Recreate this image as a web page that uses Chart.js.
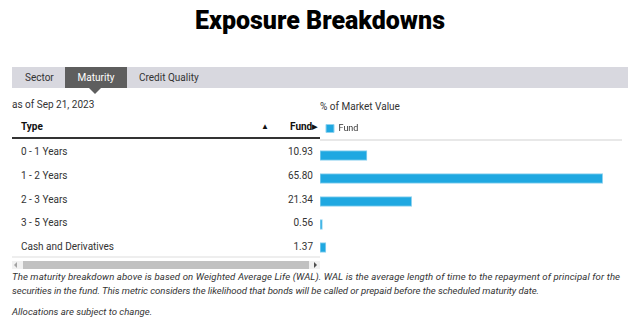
<!DOCTYPE html>
<html><head><meta charset="utf-8">
<script src="https://cdn.jsdelivr.net/npm/chart.js@4.4.0/dist/chart.umd.min.js"></script>
<style>
html,body{margin:0;padding:0}
body{width:640px;height:327px;overflow:hidden;background:#fff;font-family:Roboto,"Liberation Sans",sans-serif;color:#333;position:relative}
.a{position:absolute;white-space:nowrap}
.row{position:absolute;left:12px;width:308px;height:24px;font-size:10px;line-height:24px}
.row .n{position:absolute;left:9px}
.row .v{position:absolute;right:7px}
.foot{font-style:italic;font-size:9.6px;color:#333}
</style></head><body>
<div class="a" style="left:0;width:640px;top:4px;text-align:center;font-weight:900;font-size:25px;color:#000;line-height:34px">Exposure Breakdowns</div>

<div class="a" style="left:12px;top:67px;width:616px;height:21px;background:#d8d8df"></div>
<div class="a" style="left:65px;top:67px;width:62px;height:21px;background:#5e5e5e"></div>
<div class="a" style="left:89px;top:88px;width:0;height:0;border-left:6px solid transparent;border-right:6px solid transparent;border-top:6px solid #5e5e5e"></div>
<div class="a" style="left:25px;top:67px;line-height:21px;font-size:10px;color:#333">Sector</div>
<div class="a" style="left:65px;width:62px;text-align:center;top:67px;line-height:21px;font-size:10px;color:#fff">Maturity</div>
<div class="a" style="left:139px;top:67px;line-height:21px;font-size:10px;color:#333">Credit Quality</div>

<div class="a" style="left:12px;top:98px;line-height:14px;font-size:10px">as of Sep 21, 2023</div>
<div class="a" style="left:320px;top:100px;line-height:14px;font-size:10px">% of Market Value</div>

<div class="a" style="left:21px;top:120px;line-height:14px;font-size:10px;font-weight:700;color:#111">Type</div>
<div class="a" style="left:261px;top:120px;line-height:14px;font-size:8px;color:#111">&#9650;</div>
<div class="a" style="left:290px;top:120px;line-height:14px;font-size:10px;font-weight:700;color:#111">Fund<span style="font-size:7px;vertical-align:1px">&#9654;</span></div>
<div class="a" style="left:12px;top:137px;width:308px;height:2px;background:#333"></div>
<div class="a" style="left:320px;top:139px;width:302px;height:2px;background:#e8e8e8"></div>

<div id="rows"></div>
<div class="a" style="left:12px;top:256px;width:308px;height:2px;background:#eeeeee"></div>
<div class="a" style="left:12px;top:261px;width:308px;height:8px;background:#f1f1f1"></div>
<div class="a" style="left:23px;top:261px;width:286px;height:8px;background:#c1c1c1"></div>
<div class="a" style="left:14px;top:262px;width:0;height:0;border-top:3px solid transparent;border-bottom:3px solid transparent;border-right:3px solid #a3a3a3"></div>
<div class="a" style="left:314px;top:262px;width:0;height:0;border-top:3px solid transparent;border-bottom:3px solid transparent;border-left:3px solid #505050"></div>

<div class="a foot" style="left:12px;top:270px;line-height:14px;letter-spacing:0.1px">The maturity breakdown above is based on Weighted Average Life (WAL). WAL is the average length of time to the repayment of principal for the</div>
<div class="a foot" style="left:12px;top:284px;line-height:14px;letter-spacing:-0.05px">securities in the fund. This metric considers the likelihood that bonds will be called or prepaid before the scheduled maturity date.</div>
<div class="a foot" style="left:12px;top:305px;line-height:14px">Allocations are subject to change.</div>

<div class="a" style="left:320px;top:118px;width:302px;height:141px"><canvas id="c"></canvas></div>

<script>
const categories = ["0 - 1 Years", "1 - 2 Years", "2 - 3 Years", "3 - 5 Years", "Cash and Derivatives"];
const fundValues = [10.93, 65.80, 21.34, 0.56, 1.37];
const valueLabels = ["10.93", "65.80", "21.34", "0.56", "1.37"];
const seriesName = "Fund";

const rowsEl = document.getElementById('rows');
categories.forEach((c, i) => {
  const r = document.createElement('div');
  r.className = 'row';
  r.style.top = (140 + i * 23.75) + 'px';
  r.innerHTML = '<span class="n"></span><span class="v"></span>';
  r.querySelector('.n').textContent = c;
  r.querySelector('.v').textContent = valueLabels[i];
  rowsEl.appendChild(r);
});

const legendShift = {
  id: 'legendShift',
  beforeInit(chart) {
    const lg = chart.legend;
    const orig = lg.fit;
    lg.fit = function () { orig.call(this); this.height += 1; };
  }
};

new Chart(document.getElementById('c'), {
  type: 'bar',
  data: {
    labels: categories,
    datasets: [{
      label: seriesName,
      data: fundValues,
      backgroundColor: '#1fa8e1',
      borderColor: '#8fd2ef',
      borderWidth: 1,
      borderSkipped: false,
      barThickness: 10
    }]
  },
  plugins: [legendShift],
  options: {
    indexAxis: 'y',
    responsive: true,
    maintainAspectRatio: false,
    animation: false,
    layout: { padding: 0 },
    scales: {
      x: { display: false, min: 0, max: 70.3 },
      y: { display: false, offset: true }
    },
    plugins: {
      tooltip: { enabled: false },
      legend: {
        display: true,
        position: 'top',
        align: 'start',
        labels: {
          boxWidth: 8, boxHeight: 8, padding: 6,
          color: '#333',
          font: { family: 'Roboto, "Liberation Sans", sans-serif', size: 9 }
        }
      }
    }
  }
});
</script>
</body></html>
